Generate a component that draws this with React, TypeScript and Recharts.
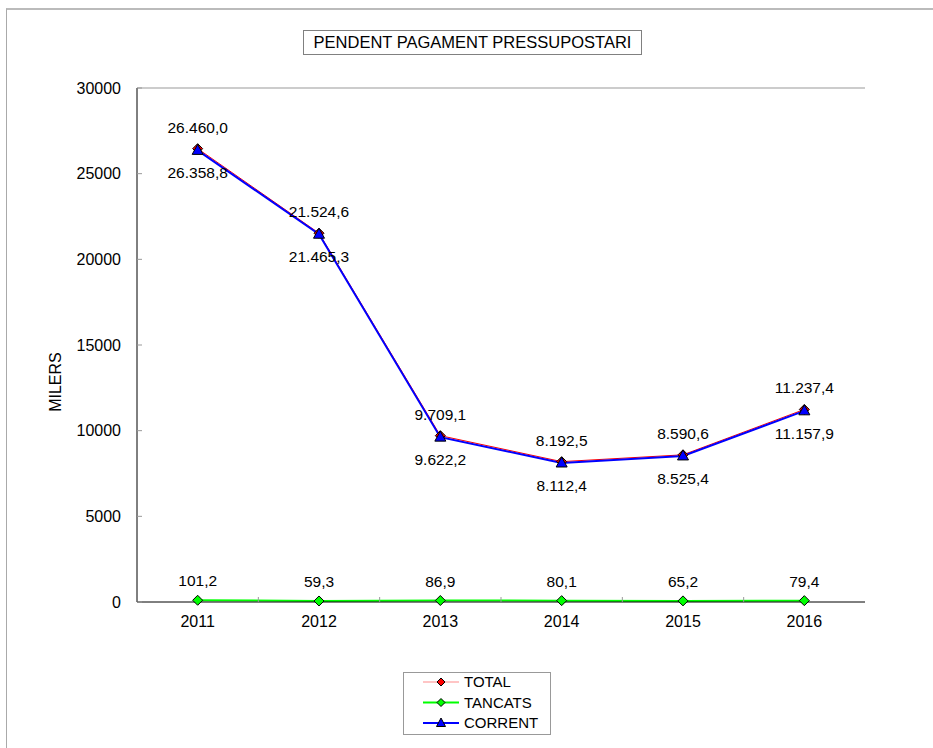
import React from 'react';
import { LineChart, Line, XAxis, YAxis, Legend, LabelList, ReferenceLine } from 'recharts';

const years = ['2011', '2012', '2013', '2014', '2015', '2016'];
const total = [26460.0, 21524.6, 9709.1, 8192.5, 8590.6, 11237.4];
const tancats = [101.2, 59.3, 86.9, 80.1, 65.2, 79.4];
const corrent = [26358.8, 21465.3, 9622.2, 8112.4, 8525.4, 11157.9];
const yTicks = [0, 5000, 10000, 15000, 20000, 25000, 30000];

const data = years.map((y, i) => ({ year: y, TOTAL: total[i], TANCATS: tancats[i], CORRENT: corrent[i] }));

const FONT = '"Liberation Sans", Arial, sans-serif';
const W = 933;
const H = 748;
const M = { top: 88, right: 68, bottom: 116, left: 0 };
const YW = 137;
const XH = 30;
const plotW = W - M.left - M.right - YW;
const plotBottom = H - M.bottom - XH;

function fmt(v: number): string {
  const s = v.toFixed(1);
  const [ip, dp] = s.split('.');
  let out = '';
  for (let i = 0; i < ip.length; i++) {
    if (i > 0 && (ip.length - i) % 3 === 0) out += '.';
    out += ip[i];
  }
  return out + ',' + dp;
}

const Diamond = (fill: string) => (props: any) => {
  const { cx, cy, index } = props;
  if (cx == null || cy == null) return <g key={index} />;
  const r = 5;
  return (
    <path key={index} d={`M${cx},${cy - r}L${cx + r},${cy}L${cx},${cy + r}L${cx - r},${cy}Z`} fill={fill} stroke="#000" strokeWidth={1} />
  );
};

const Triangle = (props: any) => {
  const { cx, cy, index } = props;
  if (cx == null || cy == null) return <g key={index} />;
  return (
    <path key={index} d={`M${cx},${cy - 6}L${cx + 5.5},${cy + 4}L${cx - 5.5},${cy + 4}Z`} fill="#0000FF" stroke="#000" strokeWidth={1} />
  );
};

const labelAt = (offset: number) => (props: any) => {
  const { x, y, value, index } = props;
  return (
    <text key={index} x={x} y={y + offset} textAnchor="middle" fill="#000" fontSize={15.5} fontFamily={FONT}>
      {fmt(Number(value))}
    </text>
  );
};

const XTick = (props: any) => {
  const { x, y, payload, index } = props;
  const bw = plotW / years.length;
  return (
    <g>
      <text x={x} y={y} dy="0.71em" textAnchor="middle" fill="#000" fontSize={16} fontFamily={FONT}>
        {payload.value}
      </text>
      {index > 0 && (
        <line x1={x - bw / 2} x2={x - bw / 2} y1={plotBottom} y2={plotBottom - 5} stroke="#999" />
      )}
    </g>
  );
};

const legendItems = [
  { name: 'TOTAL', color: '#FF0000', width: 1, marker: 'diamond', fill: '#FF0000' },
  { name: 'TANCATS', color: '#00FF00', width: 2, marker: 'diamond', fill: '#00FF00' },
  { name: 'CORRENT', color: '#0000FF', width: 2, marker: 'triangle', fill: '#0000FF' },
];

const LegendContent = () => (
  <svg width={148} height={63} style={{ display: 'block' }}>
    <rect x={0.5} y={0.5} width={147} height={62} fill="#fff" stroke="#999" />
    {legendItems.map((it, i) => {
      const cy = 10 + i * 20.5;
      const cx = 38;
      return (
        <g key={it.name}>
          <line x1={20} x2={56} y1={cy} y2={cy} stroke={it.color} strokeWidth={it.width} opacity={it.name === 'TOTAL' ? 0.45 : 1} />
          {it.marker === 'diamond' ? (
            <path d={`M${cx},${cy - 4}L${cx + 4},${cy}L${cx},${cy + 4}L${cx - 4},${cy}Z`} fill={it.fill} stroke="#000" />
          ) : (
            <path d={`M${cx},${cy - 5}L${cx + 4.5},${cy + 3.5}L${cx - 4.5},${cy + 3.5}Z`} fill={it.fill} stroke="#000" />
          )}
          <text x={61} y={cy} dy="0.36em" fontSize={15} fill="#000" fontFamily={FONT}>
            {it.name}
          </text>
        </g>
      );
    })}
  </svg>
);

export default function App() {
  return (
    <div style={{ position: 'absolute', left: 0, top: 0, width: W, height: H, background: '#fff', fontFamily: FONT, overflow: 'hidden' }}>
      <div style={{ position: 'absolute', left: 6, top: 8, width: W, height: H, borderTop: '2px solid #bbb', borderLeft: '1px solid #aaa' }} />
      <div
        style={{
          position: 'absolute', left: 303, top: 30, width: 337, height: 23,
          border: '1px solid #808080', textAlign: 'center', fontSize: 16.5, lineHeight: '23px', color: '#000',
        }}
      >
        PENDENT PAGAMENT PRESSUPOSTARI
      </div>
      <div style={{ position: 'absolute', left: 0, top: 0 }}>
        <LineChart width={W} height={H} data={data} margin={M}>
          <XAxis
            dataKey="year"
            scale="band"
            height={XH}
            axisLine={{ stroke: '#000' }}
            tickLine={false}
            tickSize={0}
            tickMargin={14}
            tick={<XTick />}
            interval={0}
          />
          <YAxis
            width={YW}
            domain={[0, 30000]}
            ticks={yTicks}
            interval={0}
            axisLine={{ stroke: '#000' }}
            tickLine={{ stroke: '#999' }}
            tickSize={-5}
            tickMargin={21}
            tick={{ fill: '#000', fontSize: 16, fontFamily: FONT }}
            label={(p: any) => (
              <text x={55} y={382} transform="rotate(-90 55 382)" textAnchor="middle" dominantBaseline="central" fontSize={16} fill="#000" fontFamily={FONT}>
                MILERS
              </text>
            )}
          />
          <YAxis yAxisId="right" orientation="right" width={0} domain={[0, 30000]} tick={false} tickLine={false} axisLine={{ stroke: '#999' }} />
          <ReferenceLine y={30000} stroke="#999" strokeWidth={1} ifOverflow="visible" />
          <Legend
            layout="vertical"
            align="center"
            verticalAlign="middle"
            wrapperStyle={{ left: 403, top: 672, width: 148, height: 63 }}
            content={<LegendContent />}
          />
          <Line dataKey="TOTAL" stroke="#FF0000" strokeWidth={1} dot={Diamond('#FF0000')} activeDot={false} isAnimationActive={false}>
            <LabelList dataKey="TOTAL" content={labelAt(-16)} />
          </Line>
          <Line dataKey="TANCATS" stroke="#00FF00" strokeWidth={2} dot={Diamond('#00FF00')} activeDot={false} isAnimationActive={false}>
            <LabelList dataKey="TANCATS" content={labelAt(-14)} />
          </Line>
          <Line dataKey="CORRENT" stroke="#0000FF" strokeWidth={2} dot={Triangle} activeDot={false} isAnimationActive={false}>
            <LabelList dataKey="CORRENT" content={labelAt(28)} />
          </Line>
        </LineChart>
      </div>
    </div>
  );
}
